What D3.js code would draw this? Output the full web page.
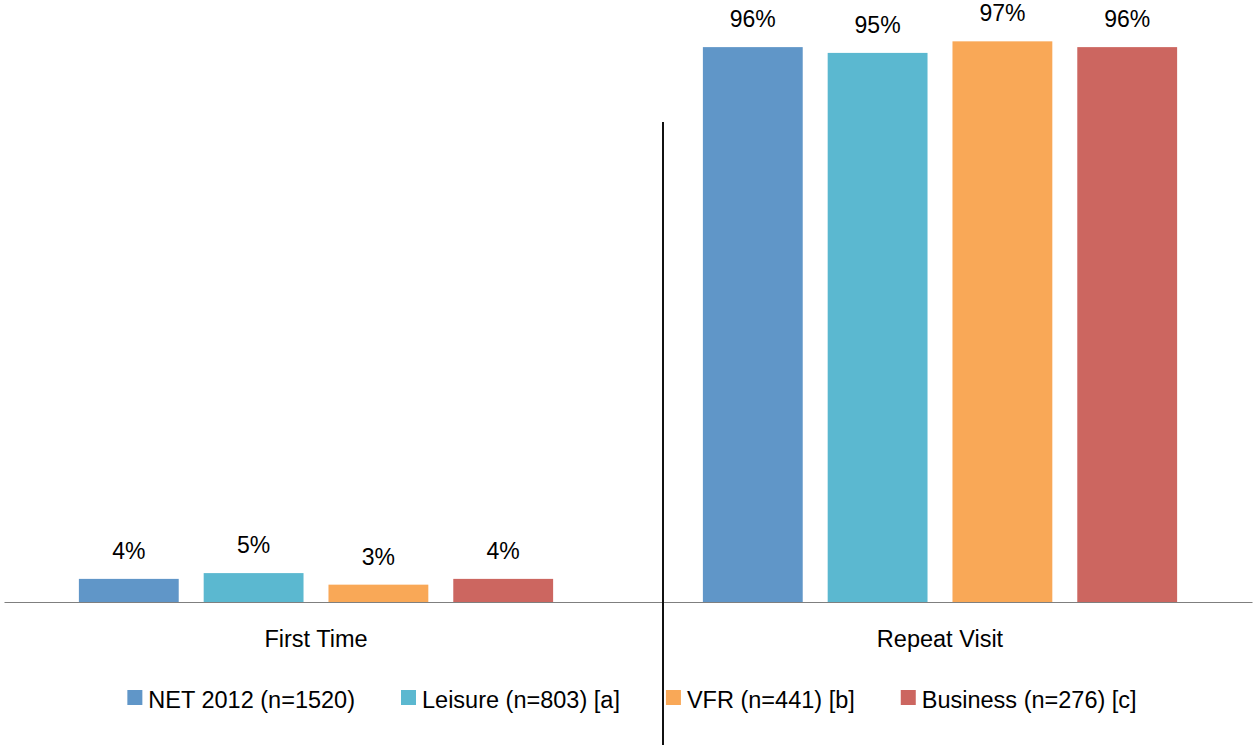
<!DOCTYPE html>
<html>
<head>
<meta charset="utf-8">
<script src="https://cdn.jsdelivr.net/npm/d3@7"></script>
<style>
  body { margin: 0; background: #fff; }
  svg { display: block; font-family: "Liberation Sans", Arial, sans-serif; }
</style>
</head>
<body>
<svg width="1253" height="745"></svg>
<script>
// chart data
var categories = ["First Time", "Repeat Visit"];
var seriesNames = ["NET 2012 (n=1520)", "Leisure (n=803) [a]", "VFR (n=441) [b]", "Business (n=276) [c]"];
var firstTime = [4, 5, 3, 4];
var repeatVisit = [96, 95, 97, 96];
var colors = ["#6096c8", "#5bb8d0", "#f9a857", "#cc6660"];

var svg = d3.select("svg"),
    width = 1253,
    baseY = 602;

var rows = categories.map(function(c, i) {
  var vals = i === 0 ? firstTime : repeatVisit;
  return {cat: c, values: seriesNames.map(function(s, j) { return {key: s, value: vals[j]}; })};
});

var x0 = d3.scaleBand()
    .domain(categories)
    .range([4, 1252]);
var x1 = d3.scaleBand()
    .domain(seriesNames)
    .range([0, x0.bandwidth()])
    .paddingInner(0.2)
    .paddingOuter(0.6);
var y = d3.scaleLinear()
    .domain([0, 100])
    .range([baseY, 24]);
var z = d3.scaleOrdinal()
    .domain(seriesNames)
    .range(colors);

var groups = svg.append("g")
  .selectAll("g")
  .data(rows)
  .enter().append("g")
    .attr("transform", function(d) { return "translate(" + x0(d.cat) + ",0)"; });

groups.selectAll("rect")
  .data(function(d) { return d.values; })
  .enter().append("rect")
    .attr("x", function(d) { return x1(d.key); })
    .attr("y", function(d) { return y(d.value); })
    .attr("width", x1.bandwidth())
    .attr("height", function(d) { return baseY - y(d.value); })
    .attr("fill", function(d) { return z(d.key); });

groups.selectAll("text")
  .data(function(d) { return d.values; })
  .enter().append("text")
    .attr("x", function(d) { return x1(d.key) + x1.bandwidth() / 2; })
    .attr("y", function(d) { return y(d.value) - 20; })
    .attr("text-anchor", "middle")
    .attr("font-size", 23)
    .attr("fill", "#000")
    .text(function(d) { return d.value + "%"; });

// baseline
var xAxis = svg.append("g")
    .attr("transform", "translate(0," + baseY + ")")
    .call(d3.axisBottom(x0).tickSize(0).tickPadding(28));
xAxis.select(".domain").attr("stroke", "#7f7f7f").attr("stroke-width", 1.2);
xAxis.selectAll("text")
    .attr("font-size", 23.5)
    .attr("font-family", "Liberation Sans, Arial, sans-serif")
    .attr("fill", "#000");

// divider
svg.append("line")
    .attr("x1", 663).attr("x2", 663)
    .attr("y1", 122).attr("y2", 745)
    .attr("stroke", "#111")
    .attr("stroke-width", 2);

// legend
var legend = svg.append("g")
    .attr("font-size", 23.5)
  .selectAll("g")
  .data(seriesNames)
  .enter().append("g");
legend.append("rect")
    .attr("y", 690)
    .attr("width", 15)
    .attr("height", 15)
    .attr("fill", z);
legend.append("text")
    .attr("x", 21)
    .attr("y", 708)
    .attr("fill", "#000")
    .text(function(d) { return d; });

var widths = [];
legend.each(function() { widths.push(this.getBBox().width); });
var gap = 46,
    total = d3.sum(widths) + gap * (widths.length - 1),
    pos = 632 - total / 2;
legend.attr("transform", function(d, i) {
  var t = "translate(" + pos + ",0)";
  pos += widths[i] + gap;
  return t;
});
</script>
</body>
</html>
